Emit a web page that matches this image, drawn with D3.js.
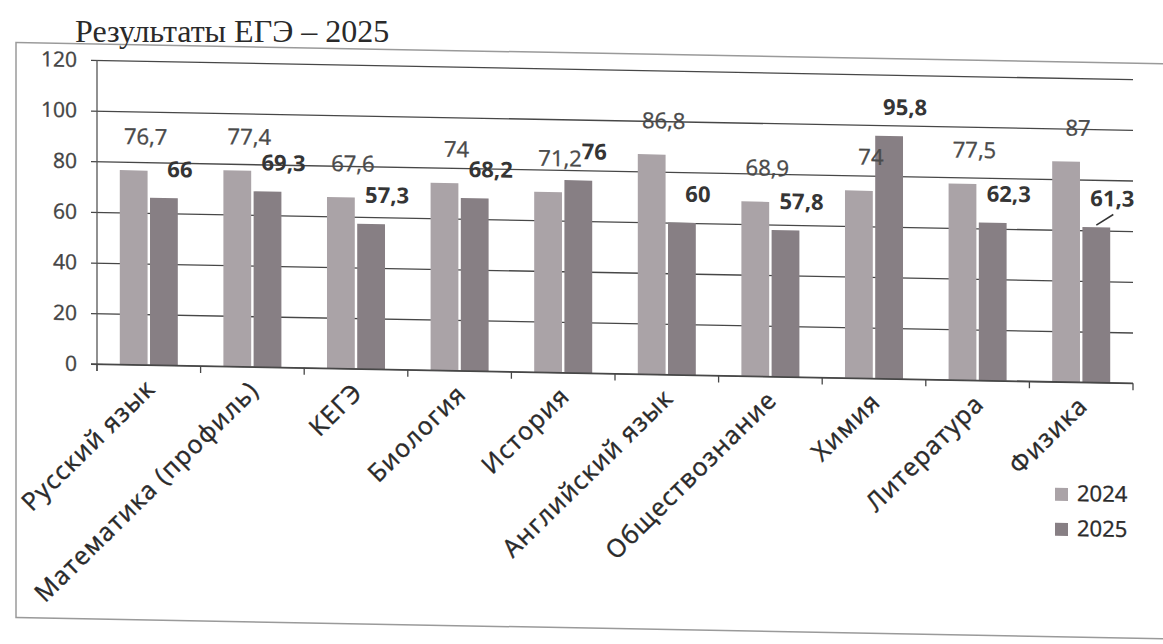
<!DOCTYPE html>
<html><head><meta charset="utf-8">
<script src="https://cdn.jsdelivr.net/npm/d3@7"></script>
<style>
html,body{margin:0;padding:0;background:#fff;}
svg{display:block;}
</style></head>
<body>
<svg id="chart" width="1163" height="644"></svg>
<script>
const title = "Результаты ЕГЭ – 2025";
const categories = ["Русский язык","Математика (профиль)","КЕГЭ","Биология","История","Английский язык","Обществознание","Химия","Литература","Физика"];
const seriesNames = ["2024","2025"];
const values2024 = [76.7,77.4,67.6,74,71.2,86.8,68.9,74,77.5,87];
const values2025 = [66,69.3,57.3,68.2,76,60,57.8,95.8,62.3,61.3];
const yTicks = [0,20,40,60,80,100,120];

const colors = {"2024":"#aaa3a7","2025":"#877f84"};
const svg = d3.select("#chart");
const font = "'Open Sans', sans-serif";

// scanned page is slightly skewed: horizontal lines drop to the right
const slope = 0.0185;
const g = svg.append("g").attr("transform", `matrix(1,${slope},0,1,0,${-slope*97})`);

// outer border
g.append("rect").attr("x",16).attr("y",44).attr("width",1150).attr("height",575)
  .attr("fill","none").attr("stroke","#9a9a9a").attr("stroke-width",1.5);

const x0 = d3.scaleBand().domain(categories).range([97,1133]).paddingInner(0.44).paddingOuter(0.22);
const x1 = d3.scaleBand().domain(seriesNames).range([0,x0.bandwidth()]).paddingInner(0.08);
const y = d3.scaleLinear().domain([0,120]).range([364,60]);
const step = x0.step();

// gridlines + y ticks
const yAxis = d3.axisLeft(y).tickValues(yTicks).tickSize(-(1133-97)).tickPadding(16).tickFormat(d3.format("d"));
const ya = g.append("g").attr("transform","translate(97,0)").call(yAxis);
ya.select(".domain").remove();
ya.selectAll(".tick line").attr("x1",-6).attr("stroke","#474747").attr("stroke-width",1.3);
ya.selectAll(".tick text").attr("font-family",font).attr("font-size",21).attr("fill","#444")
  .attr("stroke","#444").attr("stroke-width",0.35).attr("x",-20);

// y axis line
g.append("line").attr("x1",97).attr("x2",97).attr("y1",60).attr("y2",371).attr("stroke","#555").attr("stroke-width",1.3);

// bars
const rows = categories.map((c,i)=>({cat:c, vals:[{k:"2024",v:values2024[i]},{k:"2025",v:values2025[i]}]}));
const groups = g.append("g").selectAll("g").data(rows).join("g")
  .attr("transform",d=>`translate(${x0(d.cat)},0)`);
groups.selectAll("rect").data(d=>d.vals).join("rect")
  .attr("x",d=>x1(d.k)).attr("width",x1.bandwidth())
  .attr("y",d=>y(d.v)).attr("height",d=>y(0)-y(d.v))
  .attr("fill",d=>colors[d.k]);

// x axis baseline + ticks at category boundaries
g.append("line").attr("x1",91).attr("x2",1133).attr("y1",y(0)).attr("y2",y(0)).attr("stroke","#474747").attr("stroke-width",1.3);
const bounds = d3.range(categories.length+1).map(i=>97+i*step);
g.append("g").selectAll("line").data(bounds).join("line")
  .attr("x1",d=>d).attr("x2",d=>d).attr("y1",y(0)).attr("y2",y(0)+7)
  .attr("stroke","#474747").attr("stroke-width",1.3);

// data labels
const fmt = v => String(v).replace(".",",");
groups.selectAll("text.lbl").data(d=>d.vals).join("text").attr("class","lbl")
  .attr("x",d=>x1(d.k)+x1.bandwidth()/2+(d.k==="2024"?12:16))
  .attr("y",d=>y(d.v)-(d.k==="2024"?32:27))
  .attr("dominant-baseline","middle").attr("text-anchor","middle")
  .attr("font-family",font).attr("font-size",22)
  .attr("font-weight",d=>d.k==="2025"?"bold":"normal")
  .attr("fill",d=>d.k==="2025"?"#353535":"#4a4a4a")
  .attr("stroke",d=>d.k==="2025"?"none":"#4a4a4a").attr("stroke-width",0.35)
  .text(d=>fmt(d.v));

// leader line for last category's 2025 label
{
  const last = categories[categories.length-1];
  const bx = x0(last)+x1("2025")+x1.bandwidth()/2;
  const by = y(values2025[values2025.length-1]);
  g.append("line").attr("x1",bx).attr("y1",by-2).attr("x2",bx+17).attr("y2",by-13)
    .attr("stroke","#333").attr("stroke-width",1.5);
}

// x labels
g.append("g").selectAll("text").data(categories).join("text")
  .attr("transform",d=>`translate(${x0(d)+x0.bandwidth()/2+8},${y(0)+25}) rotate(-45)`)
  .attr("text-anchor","end")
  .attr("font-family",font).attr("font-size",25).attr("letter-spacing",1.3)
  .attr("fill","#2a2a2a").attr("stroke","#2a2a2a").attr("stroke-width",0.4).text(d=>d);

// legend
const leg = g.append("g").attr("transform","translate(1055,470)");
seriesNames.forEach((s,i)=>{
  leg.append("rect").attr("x",0).attr("y",i*35).attr("width",13).attr("height",13).attr("fill",colors[s]);
  leg.append("text").attr("x",22).attr("y",i*35+7).attr("dominant-baseline","middle")
    .attr("font-family",font).attr("font-size",22).attr("fill","#2a2a2a")
    .attr("stroke","#2a2a2a").attr("stroke-width",0.35).text(s);
});

// title
svg.append("text").attr("x",75).attr("y",42).attr("font-family","'Liberation Serif', serif")
  .attr("font-size",32).attr("fill","#2a2a2a").text(title);
</script>
</body></html>
